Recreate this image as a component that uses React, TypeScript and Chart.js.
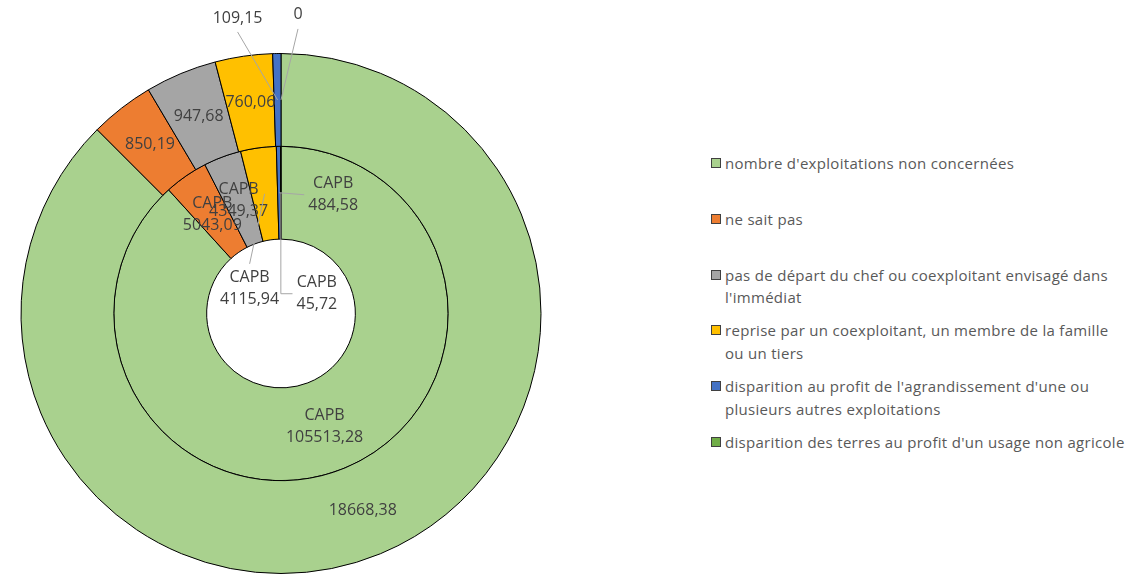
import React, { useEffect, useRef } from "react";
import { Chart, registerables } from "chart.js";

Chart.register(...registerables);

const categories = [
  "nombre d'exploitations non concernées",
  "ne sait pas",
  "pas de départ du chef ou coexploitant envisagé dans l'immédiat",
  "reprise par un coexploitant, un membre de la famille ou un tiers",
  "disparition au profit de l'agrandissement d'une ou plusieurs autres exploitations",
  "disparition des terres au profit d'un usage non agricole",
];

const legendLines = [
  ["nombre d'exploitations non concernées"],
  ["ne sait pas"],
  ["pas de départ du chef ou coexploitant envisagé dans", "l'immédiat"],
  ["reprise par un coexploitant, un membre de la famille", "ou un tiers"],
  ["disparition au profit de l'agrandissement d'une ou", "plusieurs autres exploitations"],
  ["disparition des terres au profit d'un usage non agricole"],
];

const outerValues = [18668.38, 850.19, 947.68, 760.06, 109.15, 0];
const innerValues = [105513.28, 5043.09, 4349.37, 4115.94, 484.58, 45.72];
const innerSeriesName = "CAPB";

const colors = ["#A9D18E", "#ED7D31", "#A5A5A5", "#FFC000", "#4472C4", "#70AD47"];

const FONT = '"Open Sans", "Noto Sans", sans-serif';
const TEXT_COLOR = "#404040";

// label offsets (relative to the arc's centre point) for labels with leader lines
type Lead = { dx: number; dy: number; mode: "bottom" | "top" | "left" | "elbow" };
const leaders: Record<string, Lead> = {
  "0-4": { dx: -40, dy: -82, mode: "bottom" },
  "0-5": { dx: 17, dy: -85, mode: "bottom" },
  "1-3": { dx: -15, dy: 95, mode: "top" },
  "1-4": { dx: 54, dy: 2, mode: "left" },
  "1-5": { dx: 36, dy: 101, mode: "elbow" },
};

function fmt(v: number): string {
  if (Number.isInteger(v)) return String(v);
  return v.toFixed(2).replace(".", ",");
}

const labelPlugin = {
  id: "ringLabels",
  afterDatasetsDraw(chart: any) {
    const ctx = chart.ctx as CanvasRenderingContext2D;
    ctx.save();
    ctx.font = `16px ${FONT}`;
    ctx.textAlign = "center";
    ctx.textBaseline = "middle";
    const lh = 22;
    chart.data.datasets.forEach((ds: any, di: number) => {
      const meta = chart.getDatasetMeta(di);
      meta.data.forEach((arc: any, j: number) => {
        const v = ds.data[j] as number;
        const lines = di === 1 ? [innerSeriesName, fmt(v)] : [fmt(v)];
        const p = arc.tooltipPosition(false);
        const lead = leaders[`${di}-${j}`];
        let lx = p.x;
        let ly = p.y;
        const h = lines.length * lh;
        const w = Math.max(...lines.map((l) => ctx.measureText(l).width));
        if (lead) {
          lx += lead.dx;
          ly += lead.dy;
          ctx.strokeStyle = "#A6A6A6";
          ctx.lineWidth = 1;
          ctx.beginPath();
          ctx.moveTo(p.x, p.y);
          if (lead.mode === "bottom") ctx.lineTo(lx, ly + h / 2 + 3);
          else if (lead.mode === "top") ctx.lineTo(lx, ly - h / 2 - 3);
          else if (lead.mode === "left") ctx.lineTo(lx - w / 2 - 4, ly);
          else {
            ctx.lineTo(p.x, ly);
            ctx.lineTo(lx - w / 2 - 4, ly);
          }
          ctx.stroke();
        }
        ctx.fillStyle = TEXT_COLOR;
        lines.forEach((t, k) => ctx.fillText(t, lx, ly - h / 2 + lh / 2 + k * lh));
      });
    });
    ctx.restore();
  },
};

function Legend() {
  const top0 = 152;
  const step = 55.8;
  return (
    <div style={{ position: "absolute", left: 710, top: 0, width: 432, height: 578 }}>
      {legendLines.map((lines, i) => (
        <div
          key={categories[i]}
          style={{ position: "absolute", left: 0, top: top0 + i * step, width: 432 }}
        >
          <div
            style={{
              position: "absolute",
              left: 1,
              top: 6,
              width: 8,
              height: 8,
              background: colors[i],
              border: "1px solid #404040",
            }}
          />
          {lines.map((l, k) => (
            <div
              key={k}
              style={{
                position: "absolute",
                left: 15,
                top: k * 22.5,
                whiteSpace: "nowrap",
                font: `15px ${FONT}`,
                letterSpacing: "0.3px",
                lineHeight: "22px",
                color: "#595959",
              }}
            >
              {l}
            </div>
          ))}
        </div>
      ))}
    </div>
  );
}

export default function App() {
  const ref = useRef<HTMLCanvasElement | null>(null);
  useEffect(() => {
    if (!ref.current) return;
    const chart = new Chart(ref.current, {
      type: "doughnut",
      data: {
        labels: categories,
        datasets: [
          {
            label: "outer",
            data: outerValues,
            backgroundColor: colors,
            borderColor: "#000000",
            borderWidth: 1,
          },
          {
            label: innerSeriesName,
            data: innerValues,
            backgroundColor: colors,
            borderColor: "#000000",
            borderWidth: 1,
          },
        ],
      },
      options: {
        responsive: false,
        animation: false,
        events: [],
        cutout: "28.6%",
        layout: { padding: { top: 53, bottom: 4, left: 0, right: 8 } },
        plugins: {
          legend: { display: false },
          tooltip: { enabled: false },
        },
      },
      plugins: [labelPlugin],
    });
    return () => chart.destroy();
  }, []);
  return (
    <div
      style={{
        position: "fixed",
        left: 0,
        top: 0,
        width: 1142,
        height: 578,
        background: "#ffffff",
        overflow: "hidden",
      }}
    >
      <canvas
        ref={ref}
        width={570}
        height={578}
        style={{ position: "absolute", left: 0, top: 0, width: 570, height: 578 }}
      />
      <Legend />
    </div>
  );
}
